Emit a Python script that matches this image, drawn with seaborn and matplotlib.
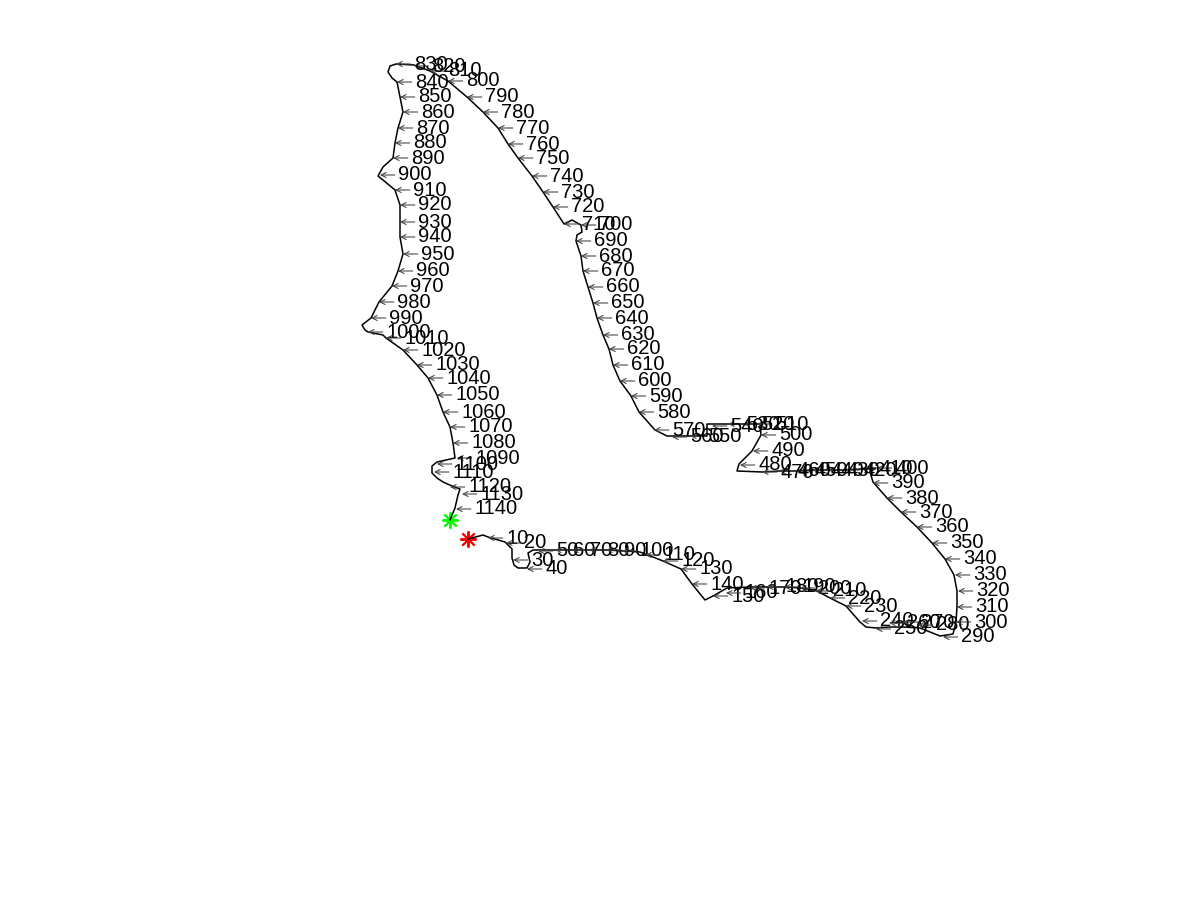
import matplotlib
matplotlib.use("Agg")
import matplotlib.pyplot as plt
import seaborn as sns
import pandas as pd

# Outline of the traced contour (pixel-like coordinates, y downward)
outline_x = [468, 483, 488, 505, 512, 512, 514, 518, 527, 530, 528, 533, 540, 556, 573, 590, 607, 623, 640, 648,
             663, 681, 692, 705, 713, 727, 750, 768, 785, 800, 815, 830, 846, 860, 866, 876, 890, 903, 920, 940,
             953, 956, 957, 957, 954, 945, 932, 917, 901, 887, 873, 870, 876, 860, 845, 828, 812, 796, 779, 762,
             737, 739, 752, 761, 760, 757, 743, 728, 712, 707, 707, 690, 672, 667, 655, 639, 631, 620, 613, 609,
             603, 597, 593, 588, 583, 581, 576, 577, 582, 581, 572, 564, 553, 543, 532, 518, 508, 498, 483, 467,
             448, 430, 414, 396, 390, 388, 392, 397, 400, 403, 398, 395, 393, 383, 378, 383, 395, 400, 400, 400,
             403, 398, 392, 379, 371, 362, 365, 368, 383, 386, 403, 417, 428, 437, 443, 450, 453, 455, 437, 432,
             432, 437, 443, 452, 460, 458, 455, 450]
outline_y = [539, 535, 537, 542, 549, 558, 565, 568, 568, 562, 553, 550, 550, 550, 550, 550, 550, 551, 552, 555,
             561, 569, 584, 600, 596, 588, 587, 587, 587, 588, 590, 598, 606, 622, 627, 628, 627, 627, 628, 636,
             634, 622, 607, 591, 575, 559, 543, 527, 512, 498, 482, 472, 468, 469, 470, 470, 470, 471, 471, 472,
             471, 464, 451, 435, 424, 424, 424, 424, 424, 424, 436, 436, 436, 436, 430, 412, 396, 381, 365, 349,
             335, 318, 303, 287, 271, 256, 241, 235, 232, 225, 220, 224, 207, 192, 176, 158, 144, 128, 112, 97,
             81, 71, 65, 64, 66, 72, 78, 82, 97, 112, 128, 143, 158, 167, 176, 180, 190, 205, 222, 237,
             254, 271, 286, 302, 318, 325, 330, 332, 335, 338, 350, 365, 378, 395, 412, 427, 443, 458, 462, 466,
             473, 478, 482, 486, 489, 495, 508, 520]

# Index labels every 10 points
label_idx = list(range(10, 1141, 10))
label_x = [488, 506, 513, 527, 538, 555, 572, 589, 606, 622, 645, 663, 681, 692, 713, 726, 750, 767, 784, 800,
           815, 830, 846, 862, 876, 889, 903, 918, 943, 956, 957, 958, 955, 945, 932, 917, 901, 887, 873, 877,
           861, 845, 828, 812, 796, 779, 762, 740, 753, 761, 757, 743, 728, 712, 690, 672, 654, 639, 631, 620,
           613, 609, 603, 597, 593, 588, 583, 581, 576, 581, 564, 553, 543, 532, 518, 508, 498, 483, 467, 448,
           430, 414, 396, 397, 400, 403, 398, 395, 393, 380, 395, 400, 400, 400, 403, 398, 392, 379, 371, 368,
           386, 403, 417, 428, 437, 443, 450, 453, 457, 437, 434, 450, 462, 456]
label_y = [538, 543, 560, 569, 551, 550, 550, 550, 550, 551, 555, 561, 569, 584, 596, 593, 588, 587, 587, 588,
           591, 598, 606, 621, 629, 623, 622, 625, 637, 622, 607, 591, 575, 559, 543, 527, 512, 498, 483, 468,
           469, 470, 470, 470, 471, 471, 472, 465, 451, 435, 424, 424, 424, 426, 436, 437, 430, 412, 396, 381,
           365, 349, 335, 318, 303, 287, 271, 256, 241, 225, 224, 207, 192, 176, 158, 144, 128, 112, 97, 81,
           71, 66, 64, 82, 97, 112, 128, 143, 158, 175, 190, 205, 222, 237, 254, 271, 286, 302, 318, 332,
           338, 350, 365, 378, 395, 412, 427, 443, 458, 464, 472, 487, 494, 509]

start_xy = (468, 539)
end_xy = (450, 520)

sns.set_theme(style="white")
plt.rcParams['font.family'] = ['Liberation Sans', 'DejaVu Sans']

fig = plt.figure(figsize=(12, 9), dpi=100)
ax = fig.add_axes([0, 0, 1, 1])

df = pd.DataFrame({"x": outline_x, "y": outline_y})
sns.lineplot(data=df, x="x", y="y", sort=False, estimator=None, color="black",
             linewidth=1.1, ax=ax)

sns.scatterplot(x=[start_xy[0]], y=[start_xy[1]], marker=(8, 2, 0), s=120,
                color="red", linewidth=1.4, ax=ax)
sns.scatterplot(x=[end_xy[0]], y=[end_xy[1]], marker=(8, 2, 0), s=120,
                color="#00ff00", linewidth=1.4, ax=ax)

for i, x, y in zip(label_idx, label_x, label_y):
    ax.annotate(str(i), xy=(x, y), xytext=(13, 0), textcoords="offset points",
                ha="left", va="center", fontsize=14.5, color="black",
                arrowprops=dict(arrowstyle="->", lw=0.75, color="0.25",
                                shrinkA=0, shrinkB=0, mutation_scale=9))

ax.set_xlim(0, 1200)
ax.set_ylim(900, 0)
ax.set_axis_off()
ax.set_xlabel("")
ax.set_ylabel("")

fig.savefig("out.png", dpi=100)
